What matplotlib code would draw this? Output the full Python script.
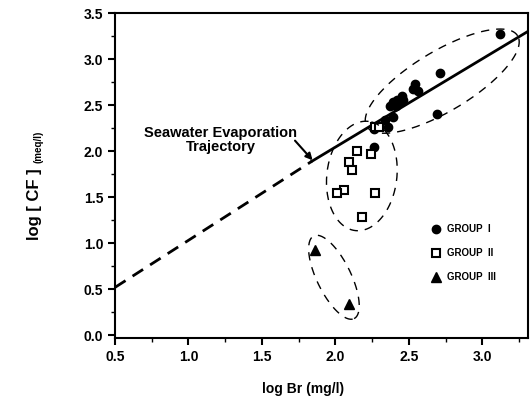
import numpy as np
import matplotlib
matplotlib.use('Agg')
import matplotlib.pyplot as plt

plt.rcParams['font.family'] = ['Liberation Sans', 'DejaVu Sans']
plt.rcParams['font.weight'] = 'bold'

# data: log Br (mg/l) vs log Cl (meq/l)
g1_x = [3.12, 2.71, 2.54, 2.56, 2.53, 2.455, 2.42, 2.39, 2.37, 2.41, 2.44, 2.46,
        2.69, 2.34, 2.39, 2.36, 2.26, 2.26]
g1_y = [3.27, 2.85, 2.73, 2.65, 2.67, 2.60, 2.56, 2.53, 2.49, 2.49, 2.53, 2.56,
        2.40, 2.34, 2.37, 2.26, 2.24, 2.05]
g2_x = [2.27, 2.30, 2.15, 2.24, 2.09, 2.11, 2.06, 2.01, 2.27, 2.18]
g2_y = [2.26, 2.26, 2.00, 1.97, 1.88, 1.80, 1.58, 1.54, 1.54, 1.28]
g3_x = [1.86, 2.09]
g3_y = [0.93, 0.34]

# seawater evaporation trajectory
sw_dash_x = [0.5, 1.84]
sw_dash_y = [0.52, 1.89]
sw_solid_x = [1.84, 3.31]
sw_solid_y = [1.89, 3.30]

xmin, xmax = 0.5, 3.31
ymin, ymax = -0.03, 3.5

fig = plt.figure(figsize=(5.3, 4.07), dpi=100)
ax = fig.add_axes([0.217, 0.1695, 0.779, 0.7985])
ax.set_xlim(xmin, xmax)
ax.set_ylim(ymin, ymax)

ax.plot(sw_dash_x, sw_dash_y, color='black', lw=2, dashes=(4.5, 3))
ax.plot(sw_solid_x, sw_solid_y, color='black', lw=2)

ax.plot(g1_x, g1_y, 'o', color='black', ms=6, label='GROUP  I')
ax.plot(g2_x, g2_y, 's', mfc='white', mec='black', mew=1.5, ms=6, label='GROUP  II')
ax.plot(g3_x, g3_y, '^', color='black', ms=7.5, label='GROUP  III')

# dashed group outlines (size in pixels, converted to data units)
sx = 0.779 * 530 / (xmax - xmin)
sy = 0.7985 * 407 / (ymax - ymin)
def outline(xc, yc, a, b, ang):
    t = np.linspace(0, 2 * np.pi, 200)
    r = np.radians(ang)
    u = a * np.cos(t)
    v = b * np.sin(t)
    px = u * np.cos(r) - v * np.sin(r)
    py = u * np.sin(r) + v * np.cos(r)
    ax.plot(xc + px / sx, yc + py / sy, color='black', lw=1, dashes=(6, 5))

outline(2.727, 2.76, 88, 30, 31)
outline(2.18, 1.73, 55, 35, 83)
outline(1.99, 0.63, 46, 17, -64)

ax.annotate('Seawater Evaporation\nTrajectory', xy=(1.845, 1.90), xytext=(1.22, 2.12),
            ha='center', va='center', fontsize=10.5, fontweight='bold', linespacing=1.0,
            arrowprops=dict(arrowstyle='-|>', color='black', lw=1.5,
                            shrinkA=0, shrinkB=0, mutation_scale=10,
                            patchA=None, relpos=(0.985, 0.48)))

ax.set_xticks([0.5, 1.0, 1.5, 2.0, 2.5, 3.0])
ax.set_yticks([0.0, 0.5, 1.0, 1.5, 2.0, 2.5, 3.0, 3.5])
ax.set_xticks(np.arange(0.75, 3.3, 0.5), minor=True)
ax.set_yticks(np.arange(0.25, 3.5, 0.5), minor=True)
ax.tick_params(which='major', direction='out', length=5, width=1.5, labelsize=10)
ax.tick_params(which='minor', direction='out', length=3, width=1)
for s in ax.spines.values():
    s.set_linewidth(1.5)
for lab in ax.get_xticklabels() + ax.get_yticklabels():
    lab.set_fontweight('bold')

ax.set_xlabel('log Br (mg/l)', fontsize=10, fontweight='bold')
ax.xaxis.set_label_coords(0.455, -0.135)
fig.text(0.066, 0.499, 'log [ CF ]', rotation=90, ha='center', va='center',
         fontsize=12, fontweight='bold')
fig.text(0.072, 0.64, '(meq/l)', rotation=90, ha='center', va='center',
         fontsize=7, fontweight='bold')

ax.legend(loc='upper left', bbox_to_anchor=(0.745, 0.378), frameon=False,
          handlelength=1, handletextpad=0.6, labelspacing=1.45,
          prop={'weight': 'bold', 'size': 7})

fig.savefig('out.png', dpi=100)
